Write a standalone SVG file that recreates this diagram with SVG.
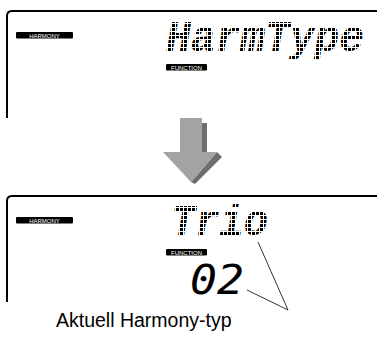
<svg xmlns="http://www.w3.org/2000/svg" width="377" height="338" viewBox="0 0 377 338">
<defs>
<pattern id="dm" width="4" height="4" patternUnits="userSpaceOnUse">
<rect x="0" y="0" width="3" height="3" fill="#000"/>
</pattern>
</defs>
<style>
.frame{fill:none;stroke:#000;stroke-width:2}
.tag{fill:#000}
.tagt{fill:#fff;font-family:"Liberation Sans",Arial,sans-serif;font-size:6px;text-anchor:middle}
.dm{font-family:"Liberation Mono","DejaVu Sans Mono",monospace;font-weight:bold;font-style:italic;font-size:44px;fill:url(#dm)}
.seg{font-family:"DejaVu Sans Mono",monospace;font-style:italic;font-size:40px;fill:#000}
.lead{stroke:#000;stroke-width:0.8;fill:none}
.cap{font-family:"Liberation Sans",Arial,sans-serif;font-size:19.5px;fill:#000}
</style>
<rect width="377" height="338" fill="#fff"/>
<g id="display1">
<path class="frame" d="M7,118 V16 Q7,11 12,11 H377"/>
<g><rect class="tag" x="16" y="32" width="57" height="6.5" rx="1"/><text class="tagt" x="44.5" y="37.5">HARMONY</text></g>
<g><rect class="tag" x="166" y="64" width="41" height="6.5" rx="1"/><text class="tagt" x="186.5" y="69.5">FUNCTION</text></g>
<text class="dm" x="166" y="51" textLength="198" lengthAdjust="spacingAndGlyphs">HarmType</text>
</g>
<g id="arrow">
<rect x="202" y="123" width="5" height="30" fill="#6e6e6e"/>
<polygon points="217,152 222,157 195,184 191,182" fill="#6e6e6e"/>
<rect x="180" y="118" width="22" height="35" fill="#a3a3a3"/>
<polygon points="163,152 217,152 191,182" fill="#a3a3a3"/>
</g>
<g id="display2">
<path class="frame" d="M7,302 V201 Q7,196 12,196 H377"/>
<g><rect class="tag" x="16" y="217" width="57" height="6.5" rx="1"/><text class="tagt" x="44.5" y="222.5">HARMONY</text></g>
<g><rect class="tag" x="166" y="249" width="41" height="6.5" rx="1"/><text class="tagt" x="186.5" y="254.5">FUNCTION</text></g>
<text class="dm" x="171" y="235" textLength="97" lengthAdjust="spacingAndGlyphs">Trio</text>
<text class="seg" x="190" y="294" textLength="54" lengthAdjust="spacingAndGlyphs">02</text>
</g>
<g id="connectors">
<line class="lead" x1="258" y1="242" x2="288" y2="310"/>
<line class="lead" x1="247" y1="290" x2="288" y2="310"/>
</g>
<g id="label">
<text class="cap" x="56" y="327">Aktuell Harmony-typ</text>
</g>
</svg>
